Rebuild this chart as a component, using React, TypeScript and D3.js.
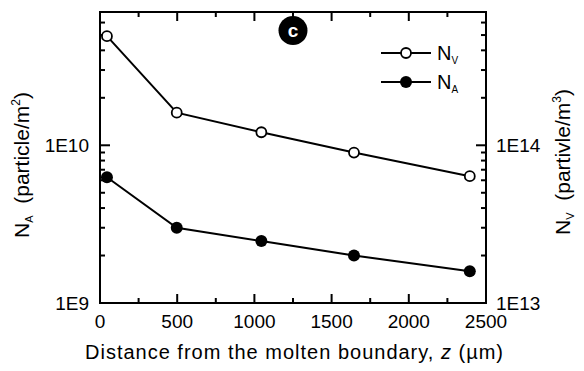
import React, { useEffect, useRef } from "react";
import * as d3 from "d3";

const zValues = [45, 497, 1045, 1645, 2395];
const nvValues = [4.92e14, 1.61e14, 1.21e14, 8.99e13, 6.37e13];
const naValues = [6.27e9, 3.0e9, 2.47e9, 2.0e9, 1.59e9];
const xTicks = [0, 500, 1000, 1500, 2000, 2500];
const leftTicks = [1e9, 1e10];
const leftTickLabels = ["1E9", "1E10"];
const rightTicks = [1e13, 1e14];
const rightTickLabels = ["1E13", "1E14"];

const W = 584;
const H = 371;
const L = 100, R = 486, T = 12, B = 303;
const FONT = "'Liberation Sans', Arial, sans-serif";

export default function App() {
  const ref = useRef<SVGSVGElement>(null);
  useEffect(() => {
    const svg = d3.select(ref.current);
    svg.selectAll("*").remove();
    const x = d3.scaleLinear().domain([0, 2500]).range([L, R]);
    const yL = d3.scaleLog().domain([1e9, 7e10]).range([B, T]);
    const yR = d3.scaleLog().domain([1e13, 7e14]).range([B, T]);

    const g = svg.append("g");

    const minorL: number[] = [];
    for (const dec of [1e9, 1e10]) for (let k = 2; k <= 9; k++) { const v = dec * k; if (v <= 7e10) minorL.push(v); }
    const minorR: number[] = minorL.map((v) => v * 1e4);

    const tk = (x1: number, y1: number, x2: number, y2: number) =>
      g.append("line").attr("x1", x1).attr("y1", y1).attr("x2", x2).attr("y2", y2)
        .attr("stroke", "#000").attr("stroke-width", 2);

    xTicks.forEach((v) => { tk(x(v), B, x(v), B - 9); tk(x(v), T, x(v), T + 9); });
    for (let v = 250; v < 2500; v += 500) { tk(x(v), B, x(v), B - 5); tk(x(v), T, x(v), T + 5); }
    leftTicks.forEach((v) => tk(L, yL(v), L + 10, yL(v)));
    minorL.forEach((v) => tk(L, yL(v), L + 5, yL(v)));
    rightTicks.forEach((v) => tk(R, yR(v), R - 10, yR(v)));
    minorR.forEach((v) => tk(R, yR(v), R - 5, yR(v)));

    g.append("rect").attr("x", L).attr("y", T).attr("width", R - L).attr("height", B - T)
      .attr("fill", "none").attr("stroke", "#000").attr("stroke-width", 2);

    xTicks.forEach((v) => g.append("text").attr("x", x(v)).attr("y", 328).attr("text-anchor", "middle")
      .attr("font-size", 19).attr("font-family", FONT).text(String(v)));
    leftTicks.forEach((v, i) => g.append("text").attr("x", 89).attr("y", yL(v) + 7).attr("text-anchor", "end")
      .attr("font-size", 19).attr("font-family", FONT).text(leftTickLabels[i]));
    rightTicks.forEach((v, i) => g.append("text").attr("x", 496).attr("y", yR(v) + 7).attr("text-anchor", "start")
      .attr("font-size", 19).attr("font-family", FONT).text(rightTickLabels[i]));

    const xt = g.append("text").attr("x", 85).attr("y", 359).attr("text-anchor", "start")
      .attr("font-size", 20).attr("font-family", FONT)
      .attr("textLength", 418).attr("lengthAdjust", "spacing");
    xt.append("tspan").text("Distance from the molten boundary,\u00a0");
    xt.append("tspan").attr("font-style", "italic").text("z");
    xt.append("tspan").text("\u00a0(\u00b5m)");

    const ylt = g.append("text").attr("transform", `translate(29,165) rotate(-90)`).attr("text-anchor", "middle")
      .attr("font-size", 21).attr("font-family", FONT);
    ylt.append("tspan").text("N");
    ylt.append("tspan").attr("font-size", 11).attr("dy", 4).text("A");
    ylt.append("tspan").attr("dy", -4).text("\u00a0\u00a0(particle/m");
    ylt.append("tspan").attr("font-size", 12).attr("dy", -9).text("2");
    ylt.append("tspan").attr("dy", 9).text(")");

    const yrt = g.append("text").attr("transform", `translate(570,162) rotate(-90)`).attr("text-anchor", "middle")
      .attr("font-size", 21).attr("font-family", FONT);
    yrt.append("tspan").text("N");
    yrt.append("tspan").attr("font-size", 11).attr("dy", 4).text("V");
    yrt.append("tspan").attr("dy", -4).text("\u00a0\u00a0(partivle/m");
    yrt.append("tspan").attr("font-size", 12).attr("dy", -9).text("3");
    yrt.append("tspan").attr("dy", 9).text(")");

    const nvLine = d3.line<number>().x((_, i) => x(zValues[i])).y((d) => yR(d));
    const naLine = d3.line<number>().x((_, i) => x(zValues[i])).y((d) => yL(d));
    g.append("path").attr("d", nvLine(nvValues)).attr("fill", "none").attr("stroke", "#000").attr("stroke-width", 2);
    g.append("path").attr("d", naLine(naValues)).attr("fill", "none").attr("stroke", "#000").attr("stroke-width", 2);

    nvValues.forEach((v, i) => g.append("circle").attr("cx", x(zValues[i])).attr("cy", yR(v)).attr("r", 5)
      .attr("fill", "#fff").attr("stroke", "#000").attr("stroke-width", 1.8));
    naValues.forEach((v, i) => g.append("circle").attr("cx", x(zValues[i])).attr("cy", yL(v)).attr("r", 6)
      .attr("fill", "#000"));

    const legY = [53, 82];
    legY.forEach((ly) => tk(381, ly, 431, ly));
    g.append("circle").attr("cx", 406).attr("cy", legY[0]).attr("r", 5).attr("fill", "#fff").attr("stroke", "#000").attr("stroke-width", 1.8);
    g.append("circle").attr("cx", 406).attr("cy", legY[1]).attr("r", 6).attr("fill", "#000");
    const lt1 = g.append("text").attr("x", 437).attr("y", legY[0] + 7).attr("font-size", 20).attr("font-family", FONT);
    lt1.append("tspan").text("N");
    lt1.append("tspan").attr("font-size", 10).attr("dy", 4).text("V");
    const lt2 = g.append("text").attr("x", 437).attr("y", legY[1] + 7).attr("font-size", 20).attr("font-family", FONT);
    lt2.append("tspan").text("N");
    lt2.append("tspan").attr("font-size", 10).attr("dy", 4).text("A");

    g.append("circle").attr("cx", 293).attr("cy", 30.5).attr("r", 14.5).attr("fill", "#000");
    g.append("text").attr("x", 293).attr("y", 37).attr("text-anchor", "middle").attr("fill", "#fff")
      .attr("font-size", 19).attr("font-weight", "bold").attr("font-family", FONT).text("c");
  }, []);
  return (
    <svg ref={ref} width={W} height={H} style={{ position: "absolute", left: 0, top: 0, background: "#fff" }} />
  );
}
